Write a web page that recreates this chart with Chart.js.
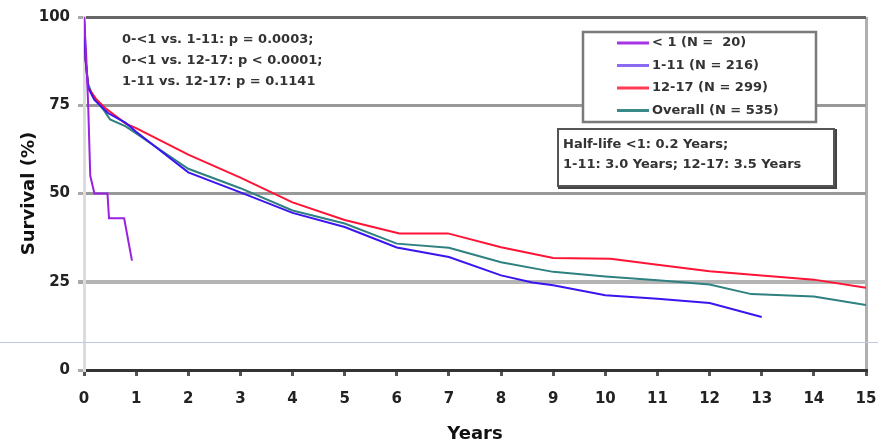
<!DOCTYPE html>
<html>
<head>
<meta charset="utf-8">
<script src="https://cdn.jsdelivr.net/npm/chart.js@4/dist/chart.umd.min.js"></script>
<style>
  html, body { margin: 0; padding: 0; background: #fff; }
  #wrap { width: 878px; height: 445px; position: relative; }
</style>
</head>
<body>
<div id="wrap"><canvas id="survChart" width="878" height="445"></canvas></div>
<script>
// values (years, survival %)
const yearsUnder1 = [0, 0.04, 0.08, 0.12, 0.2, 0.45, 0.48, 0.77, 0.92];
const survUnder1 = [100, 90, 75, 55, 50, 50, 43, 43, 31];

const years1to11 = [0, 0.03, 0.08, 0.2, 0.46, 0.8, 1, 2, 3, 4, 5, 6, 7, 8, 8.6, 9, 10, 11, 12, 13];
const surv1to11 = [100, 88, 80, 76.5, 72.8, 70, 67.5, 56, 50.3, 44.5, 40.5, 34.7, 32, 26.8, 24.8, 24, 21.2, 20.2, 19, 15];

const years12to17 = [0, 0.03, 0.08, 0.23, 0.4, 0.8, 1, 2, 3, 4, 5, 6.05, 6.98, 8, 9, 10.1, 11, 12, 13, 14, 15];
const surv12to17 = [100, 88, 80, 76.8, 74.3, 69.8, 68.5, 61, 54.5, 47.5, 42.5, 38.7, 38.7, 34.8, 31.7, 31.5, 29.8, 28, 26.8, 25.6, 23.3];

const yearsOverall = [0, 0.03, 0.08, 0.17, 0.36, 0.5, 0.8, 1, 2, 3, 4, 5, 6, 7, 8, 9, 10, 11, 12, 12.8, 14, 15];
const survOverall = [100, 88, 81, 77.5, 74, 71, 69, 67, 57, 51.5, 45.2, 41.5, 35.8, 34.6, 30.5, 27.8, 26.5, 25.4, 24.2, 21.5, 20.8, 18.4];

const xTicks = [0, 1, 2, 3, 4, 5, 6, 7, 8, 9, 10, 11, 12, 13, 14, 15];
const yTicks = [0, 25, 50, 75, 100];

const legendLabels = ["< 1 (N =  20)", "1-11 (N = 216)", "12-17 (N = 299)", "Overall (N = 535)"];
const pValueLines = ["0-<1 vs. 1-11: p = 0.0003;", "0-<1 vs. 12-17: p < 0.0001;", "1-11 vs. 12-17: p = 0.1141"];
const halfLifeLines = ["Half-life <1: 0.2 Years;", "1-11: 3.0 Years; 12-17: 3.5 Years"];

const lineColors = ["#9b22e0", "#3c14f0", "#ff1436", "#2f8080"];
const legendColors = ["#a535e2", "#8a6cf2", "#ff3a55", "#3a8a88"];

const FONT = "'DejaVu Sans', Verdana, sans-serif";

function pts(xs, ys) {
    return xs.map((x, i) => ({ x: x, y: ys[i] }));
}

const overlayPlugin = {
    id: "overlays",
    afterDraw(chart) {
        const ctx = chart.ctx;
        const y = chart.scales.y;
        ctx.save();

        // thin bluish rule across the page
        const ruleY = Math.round(y.getPixelForValue(8)) + 0.5;
        ctx.strokeStyle = "#c4c8de";
        ctx.lineWidth = 1;
        ctx.beginPath();
        ctx.moveTo(0, ruleY);
        ctx.lineTo(chart.width, ruleY);
        ctx.stroke();

        ctx.font = "bold 13px " + FONT;
        ctx.textBaseline = "middle";
        ctx.textAlign = "left";

        // p-values
        ctx.fillStyle = "#333";
        pValueLines.forEach((t, i) => ctx.fillText(t, 122, 40 + i * 21));

        // legend box
        ctx.fillStyle = "#fff";
        ctx.fillRect(582, 31, 235, 92);
        ctx.strokeStyle = "#7a7a7a";
        ctx.lineWidth = 2.5;
        ctx.strokeRect(583, 32, 233, 90);
        legendLabels.forEach((t, i) => {
            const ry = 43 + i * 22.5;
            ctx.strokeStyle = legendColors[i];
            ctx.lineWidth = 3;
            ctx.beginPath();
            ctx.moveTo(617, ry);
            ctx.lineTo(649, ry);
            ctx.stroke();
            ctx.fillStyle = "#333";
            ctx.fillText(t, 652, ry);
        });

        // half-life box
        ctx.fillStyle = "#fff";
        ctx.fillRect(557, 128, 279, 59);
        ctx.fillStyle = "#444";
        ctx.fillRect(833, 129, 4, 60);
        ctx.fillRect(558, 185, 279, 4);
        ctx.strokeStyle = "#555";
        ctx.lineWidth = 2;
        ctx.strokeRect(558, 129, 276, 57);
        ctx.fillStyle = "#333";
        halfLifeLines.forEach((t, i) => ctx.fillText(t, 563, 145 + i * 20));

        ctx.restore();
    }
};

const ctx = document.getElementById("survChart").getContext("2d");
new Chart(ctx, {
    type: "line",
    data: {
        datasets: [
            { label: legendLabels[0], data: pts(yearsUnder1, survUnder1), borderColor: lineColors[0] },
            { label: legendLabels[1], data: pts(years1to11, surv1to11), borderColor: lineColors[1] },
            { label: legendLabels[2], data: pts(years12to17, surv12to17), borderColor: lineColors[2] },
            { label: legendLabels[3], data: pts(yearsOverall, survOverall), borderColor: lineColors[3] }
        ]
    },
    options: {
        responsive: false,
        animation: false,
        layout: { padding: { top: 16, right: 0, left: 0, bottom: 0 } },
        elements: {
            point: { radius: 0 },
            line: { borderWidth: 2, tension: 0, fill: false }
        },
        plugins: {
            legend: { display: false },
            tooltip: { enabled: false }
        },
        scales: {
            x: {
                type: "linear",
                min: 0,
                max: 15,
                afterFit: s => { s.height = 75; s.paddingRight = 12; },
                afterBuildTicks: s => { s.ticks = xTicks.map(v => ({ value: v })); },
                border: { color: "#333", width: 3 },
                grid: {
                    drawOnChartArea: true,
                    color: c => c.tick && c.tick.value === 15 ? "#b0b0b0" : "rgba(0,0,0,0)",
                    lineWidth: 3,
                    tickColor: "#555",
                    tickLength: 6
                },
                ticks: {
                    padding: 14,
                    color: "#222",
                    font: { family: FONT, size: 15, weight: "bold" }
                },
                title: {
                    display: true,
                    text: "Years",
                    color: "#111",
                    padding: { top: 0, bottom: 0 },
                    font: { family: FONT, size: 18, weight: "bold" }
                }
            },
            y: {
                min: 0,
                max: 100,
                afterFit: s => { s.width = 84; },
                afterBuildTicks: s => { s.ticks = yTicks.map(v => ({ value: v })); },
                border: { color: "#dcdcdc", width: 3 },
                grid: {
                    color: c => {
                        const v = c.tick ? c.tick.value : null;
                        if (v === 100) return "#666";
                        if (v === 0) return "rgba(0,0,0,0)";
                        if (v === 25) return "#b4b4b4";
                        return "#999";
                    },
                    lineWidth: c => (c.tick && c.tick.value === 25 ? 4 : 3),
                    tickColor: "#aaa",
                    tickLength: 6
                },
                ticks: {
                    padding: 8,
                    color: "#222",
                    font: { family: FONT, size: 15, weight: "bold" }
                },
                title: {
                    display: true,
                    text: "Survival (%)",
                    color: "#111",
                    padding: { top: 19, bottom: 0 },
                    font: { family: FONT, size: 18, weight: "bold" }
                }
            }
        }
    },
    plugins: [overlayPlugin]
});
</script>
</body>
</html>
